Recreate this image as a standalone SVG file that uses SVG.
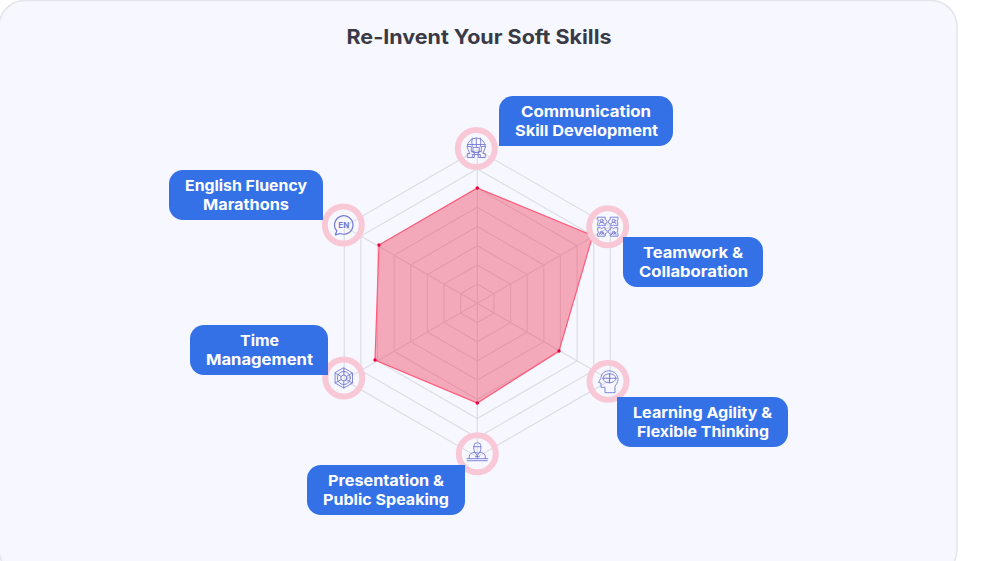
<svg xmlns="http://www.w3.org/2000/svg" width="996" height="561" viewBox="0 0 996 561">
<style>
text{font-family:Inter,"Liberation Sans",sans-serif}
.title{font-size:20px;font-weight:700;fill:#3a3a46;text-anchor:middle}
.lbl{font-size:15px;font-weight:700;fill:#fff;text-anchor:middle}
.bub{fill:#3571e6}
.ring{fill:none;stroke:#f9c8d7;stroke-width:6}
.grid{fill:none;stroke:#dcdde4;stroke-width:1.2}
.ic{fill:none;stroke:#7579d6;stroke-width:.9;stroke-linejoin:round;stroke-linecap:round}
.dot{fill:#e8003c}
</style>
<rect width="996" height="561" fill="#fff"/>
<rect x="-1" y="0.5" width="958" height="575" rx="26" fill="#f7f8ff" stroke="#e3e5ec" stroke-width="1.5"/>
<text class="title" x="479" y="44" textLength="265" lengthAdjust="spacingAndGlyphs">Re-Invent Your Soft Skills</text>

<g id="connectors">
<g class="grid" transform="translate(477.3 303.3)">
<polygon points="0,-19.2 16.63,-9.6 16.63,9.6 0,19.2 -16.63,9.6 -16.63,-9.6"/>
<polygon points="0,-38.4 33.26,-19.2 33.26,19.2 0,38.4 -33.26,19.2 -33.26,-19.2"/>
<polygon points="0,-57.6 49.88,-28.8 49.88,28.8 0,57.6 -49.88,28.8 -49.88,-28.8"/>
<polygon points="0,-76.8 66.51,-38.4 66.51,38.4 0,76.8 -66.51,38.4 -66.51,-38.4"/>
<polygon points="0,-96 83.14,-48 83.14,48 0,96 -83.14,48 -83.14,-48"/>
<polygon points="0,-115.2 99.77,-57.6 99.77,57.6 0,115.2 -99.77,57.6 -99.77,-57.6"/>
<polygon points="0,-134.4 116.39,-67.2 116.39,67.2 0,134.4 -116.39,67.2 -116.39,-67.2"/>
<polygon points="0,-153.6 133.02,-76.8 133.02,76.8 0,153.6 -133.02,76.8 -133.02,-76.8"/>
<path d="M0,-153.6V153.6M-133,-76.8L133,76.8M-133,76.8L133,-76.8"/>
</g>
<polygon points="477.3,188 592.7,235.7 559,351 477.3,403 375,360 379,245" fill="#f03c5d" fill-opacity=".42" stroke="#ff5a78" stroke-width="1.2"/>
<g class="dot">
<circle cx="477.3" cy="188" r="1.7"/><circle cx="592.7" cy="235.7" r="1.7"/><circle cx="559" cy="351" r="1.7"/><circle cx="477.3" cy="403" r="1.7"/><circle cx="375" cy="360" r="1.7"/><circle cx="379" cy="245" r="1.7"/>
</g>
</g>

<g id="node-communication">
<circle class="ring" cx="476.3" cy="148.5" r="18.500"/>
<g class="ic" transform="translate(476.3 148.5)">
<path d="M-9,-2a9,8.5 0 0 1 18,0"/><path d="M-4,-10.500a4,8.500 0 0 0 0,8.500M4,-10.500a4,8.500 0 0 1 0,8.500M-9,-4H9M0,-10.500V-1"/>
<path d="M-9,-2H-5V3H-2V9H-9V5H-7ZM9,-2H5V3H2V9H9V5H7Z"/><path d="M-3,-1H3V4H-3Z"/><path d="M-4,9V6H4V9"/>
</g>
<path class="bub" d="M513,96H659a14,14 0 0 1 14,14V132a14,14 0 0 1-14,14H499V110a14,14 0 0 1 14-14Z"/>
<text class="lbl" x="586" y="117" textLength="130" lengthAdjust="spacingAndGlyphs">Communication</text>
<text class="lbl" x="586.500" y="136" textLength="143" lengthAdjust="spacingAndGlyphs">Skill Development</text>
</g>

<g id="node-teamwork">
<circle class="ring" cx="607.700" cy="226.700" r="18.500"/>
<g class="ic" transform="translate(607.700 226.700)">
<path d="M-10,-9.500H-2.500V-7A2.200,2.200 0 0 1-1,-3.500L-2.500,-3V-1H-4.500A2.200,2.200 0 0 0-7.500,-1H-10V-4A2,2 0 0 0-10,-7Z"/>
<path d="M10,-9.500H2.500V-7A2.200,2.200 0 0 0 1,-3.500L2.500,-3V-1H4.500A2.200,2.200 0 0 1 7.500,-1H10V-4A2,2 0 0 1 10,-7Z"/>
<path d="M-10,9.500H-2.500V7A2.200,2.200 0 0 0-1,3.500L-2.500,3V1H-4.500A2.200,2.200 0 0 1-7.500,1H-10V4A2,2 0 0 1-10,7Z"/>
<path d="M10,9.500H2.500V7A2.200,2.200 0 0 1 1,3.500L2.500,3V1H4.500A2.200,2.200 0 0 0 7.500,1H10V4A2,2 0 0 0 10,7Z"/>
<circle cx="-6" cy="-6" r="1.500"/><circle cx="6" cy="-6" r="1.500"/><circle cx="-6" cy="6" r="1.500"/><circle cx="6" cy="6" r="1.500"/>
<path d="M-8.500,-2.500a2.500,2 0 0 1 5,0M3.500,-2.500a2.500,2 0 0 1 5,0M-8.500,8a2.500,2 0 0 1 5,0M3.500,8a2.500,2 0 0 1 5,0"/>
</g>
<path class="bub" d="M623,237H749a14,14 0 0 1 14,14V273a14,14 0 0 1-14,14H637a14,14 0 0 1-14-14Z"/>
<text class="lbl" x="693" y="258" textLength="100" lengthAdjust="spacingAndGlyphs">Teamwork &amp;</text>
<text class="lbl" x="693.500" y="277" textLength="109" lengthAdjust="spacingAndGlyphs">Collaboration</text>
</g>

<g id="node-learning">
<circle class="ring" cx="608" cy="381.300" r="18.500"/>
<g class="ic" transform="translate(608 381.300)">
<path d="M-3,11V6H-7V2L-9.500,1L-7,-3C-7,-8-3,-10.500 1,-10.500C6,-10.500 10,-6.500 10,-2C10,1 8,3.500 7,5V11Z"/>
<ellipse cx="1.500" cy="-3" rx="6.500" ry="4.500"/><path d="M-5,-3H8M1.500,-7.500V1.500"/>
</g>
<path class="bub" d="M617,397H774a14,14 0 0 1 14,14V433a14,14 0 0 1-14,14H631a14,14 0 0 1-14-14Z"/>
<text class="lbl" x="702.500" y="418" textLength="139" lengthAdjust="spacingAndGlyphs">Learning Agility &amp;</text>
<text class="lbl" x="703" y="437" textLength="132" lengthAdjust="spacingAndGlyphs">Flexible Thinking</text>
</g>

<g id="node-presentation">
<circle class="ring" cx="477.300" cy="453.700" r="18.500"/>
<g class="ic" transform="translate(477.300 453.700)">
<path d="M-3.500,-8a3.500,3 0 0 1 7,0V-4a3.500,3.500 0 0 1-7,0Z"/><path d="M-3.500,-7H3.500"/>
<path d="M-8,5V2.500C-8,0-5,-1-2.500,-1.500L0,2L2.500,-1.500C5,-1 8,0 8,2.500V5"/>
<path d="M-10.500,5H10.500M-10,7H10M0,2V5M-2,3H2"/>
</g>
<path class="bub" d="M321,465H465V501a14,14 0 0 1-14,14H321a14,14 0 0 1-14-14V479a14,14 0 0 1 14-14Z"/>
<text class="lbl" x="386" y="486" textLength="116" lengthAdjust="spacingAndGlyphs">Presentation &amp;</text>
<text class="lbl" x="386" y="505" textLength="126" lengthAdjust="spacingAndGlyphs">Public Speaking</text>
</g>

<g id="node-time">
<circle class="ring" cx="343.800" cy="378" r="18.500"/>
<g class="ic" transform="translate(343.800 378)">
<polygon points="0,-10 8.700,-5 8.700,5 0,10 -8.700,5 -8.700,-5"/>
<circle r="6.500"/><circle r="3"/><path d="M0,-10V-3M0,3V10M-8.700,-5L-2.600,-1.500M2.600,1.500L8.700,5M-8.700,5L-2.600,1.500M2.600,-1.500L8.700,-5"/>
</g>
<path class="bub" d="M204,325H314a14,14 0 0 1 14,14V375H204a14,14 0 0 1-14-14V339a14,14 0 0 1 14-14Z"/>
<text class="lbl" x="259.500" y="346" textLength="39" lengthAdjust="spacingAndGlyphs">Time</text>
<text class="lbl" x="259.500" y="365" textLength="107" lengthAdjust="spacingAndGlyphs">Management</text>
</g>

<g id="node-english">
<circle class="ring" cx="343.300" cy="225" r="18.500"/>
<g class="ic" transform="translate(343.800 225)">
<path d="M-7,6A9.200,9.200 0 1 1-3.500,8.500L-8.500,9.800Z" stroke-width="1.200"/>
</g>
<text x="343.800" y="228" font-size="8" font-weight="700" fill="#7579d6" text-anchor="middle">EN</text>
<path class="bub" d="M183,170H309a14,14 0 0 1 14,14V220H183a14,14 0 0 1-14-14V184a14,14 0 0 1 14-14Z"/>
<text class="lbl" x="246" y="191" textLength="122" lengthAdjust="spacingAndGlyphs">English Fluency</text>
<text class="lbl" x="246" y="210" textLength="86" lengthAdjust="spacingAndGlyphs">Marathons</text>
</g>
</svg>
